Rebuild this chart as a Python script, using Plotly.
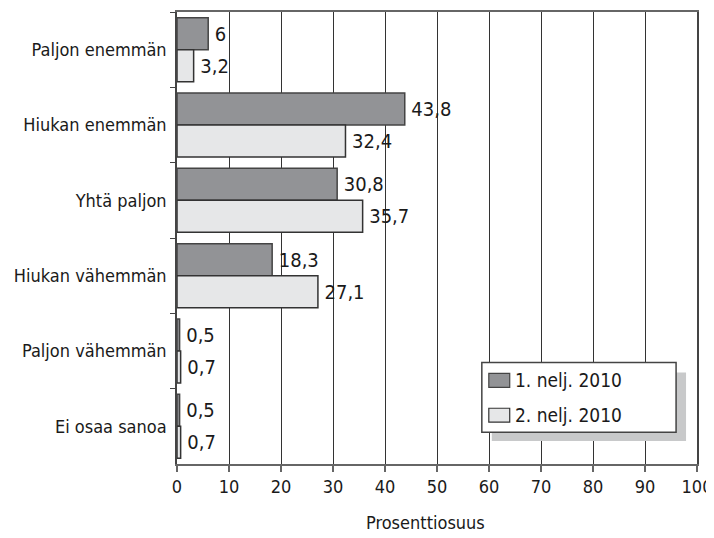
import plotly.graph_objects as go

categories = ["Paljon enemmän", "Hiukan enemmän", "Yhtä paljon", "Hiukan vähemmän", "Paljon vähemmän", "Ei osaa sanoa"]
q1_values = [6, 43.8, 30.8, 18.3, 0.5, 0.5]
q2_values = [3.2, 32.4, 35.7, 27.1, 0.7, 0.7]
series_names = ["1. nelj. 2010", "2. nelj. 2010"]
x_ticks = [0, 10, 20, 30, 40, 50, 60, 70, 80, 90, 100]
x_title = "Prosenttiosuus"

FONT = "'DejaVu Sans Condensed', 'Liberation Sans Narrow', sans-serif"
FILLS = ["#929396", "#e6e7e8"]
EDGES = ["#444444", "#333333"]

def fmt(v):
    return str(v).replace(".", ",")

# page has an 8px body margin: figure spans x 8..714, y 8..538
W, H = 706, 530
L, R, T, B = 169, 15, 2, 74
PW = W - L - R
PH = H - T - B

def px(xabs):
    return (xabs - 8 - L) / PW

def py(yabs):
    return (H - B - (yabs - 8)) / PH

fig = go.Figure()
for name, vals, fill, edge in zip(series_names, [q1_values, q2_values], FILLS, EDGES):
    fig.add_trace(go.Bar(
        y=categories, x=vals, orientation="h", name=name,
        marker=dict(color=fill, line=dict(color=edge, width=1.5)),
        text=[fmt(v) for v in vals], texttemplate="\u2009%{text}", textposition="outside",
        textfont=dict(size=20, color="#1a1a1a", family=FONT),
        constraintext="none", cliponaxis=False, showlegend=False,
    ))

# legend: shadow, box, swatches and labels
fig.add_shape(type="rect", xref="paper", yref="paper",
              x0=px(493), x1=px(688), y0=py(441), y1=py(372),
              fillcolor="#c8c9ca", line=dict(width=0), layer="above")
fig.add_shape(type="rect", xref="paper", yref="paper",
              x0=px(483), x1=px(678), y0=py(432), y1=py(362),
              fillcolor="white", line=dict(color="#444444", width=1.5), layer="above")
for i, (name, fill, edge) in enumerate(zip(series_names, FILLS, EDGES)):
    yc = 380 + i * 35
    fig.add_shape(type="rect", xref="paper", yref="paper",
                  x0=px(490), x1=px(511), y0=py(yc + 7), y1=py(yc - 7),
                  fillcolor=fill, line=dict(color=edge, width=1.2), layer="above")
    fig.add_annotation(text=name, xref="paper", yref="paper",
                       x=px(514), y=py(yc), xanchor="left", yanchor="middle",
                       showarrow=False, font=dict(size=19, family=FONT, color="#1a1a1a"))

# axis title (slightly left of centre as in the original)
fig.add_annotation(text=x_title, xref="paper", yref="paper",
                   x=px(426), y=py(523), xanchor="center", yanchor="middle",
                   showarrow=False, font=dict(size=18, family=FONT, color="#1a1a1a"))

fig.update_layout(
    width=W, height=H,
    margin=dict(l=L, r=R, t=T, b=B),
    paper_bgcolor="white", plot_bgcolor="white",
    barmode="group", bargap=0.15, bargroupgap=0,
    font=dict(family=FONT, color="#1a1a1a", size=18),
    showlegend=False,
    xaxis=dict(
        range=[0, 100], tickvals=x_ticks, ticktext=[str(t) for t in x_ticks],
        showgrid=True, gridcolor="#333333", gridwidth=1,
        showline=True, linecolor="#666666", linewidth=1.5, mirror=True,
        ticks="outside", ticklen=6, tickcolor="#666666", tickwidth=1.5,
        tickfont=dict(size=18, family=FONT),
        ticklabeloverflow="allow",
        zeroline=False,
    ),
    yaxis=dict(
        autorange="reversed", type="category",
        showline=True, linecolor="#444444", linewidth=1.5, mirror=True,
        ticks="outside", tickson="boundaries", ticklen=5, tickcolor="#444444",
        ticklabelstandoff=5,
        tickfont=dict(size=18, family=FONT), showgrid=False,
    ),
)

fig.write_html("out.html")
